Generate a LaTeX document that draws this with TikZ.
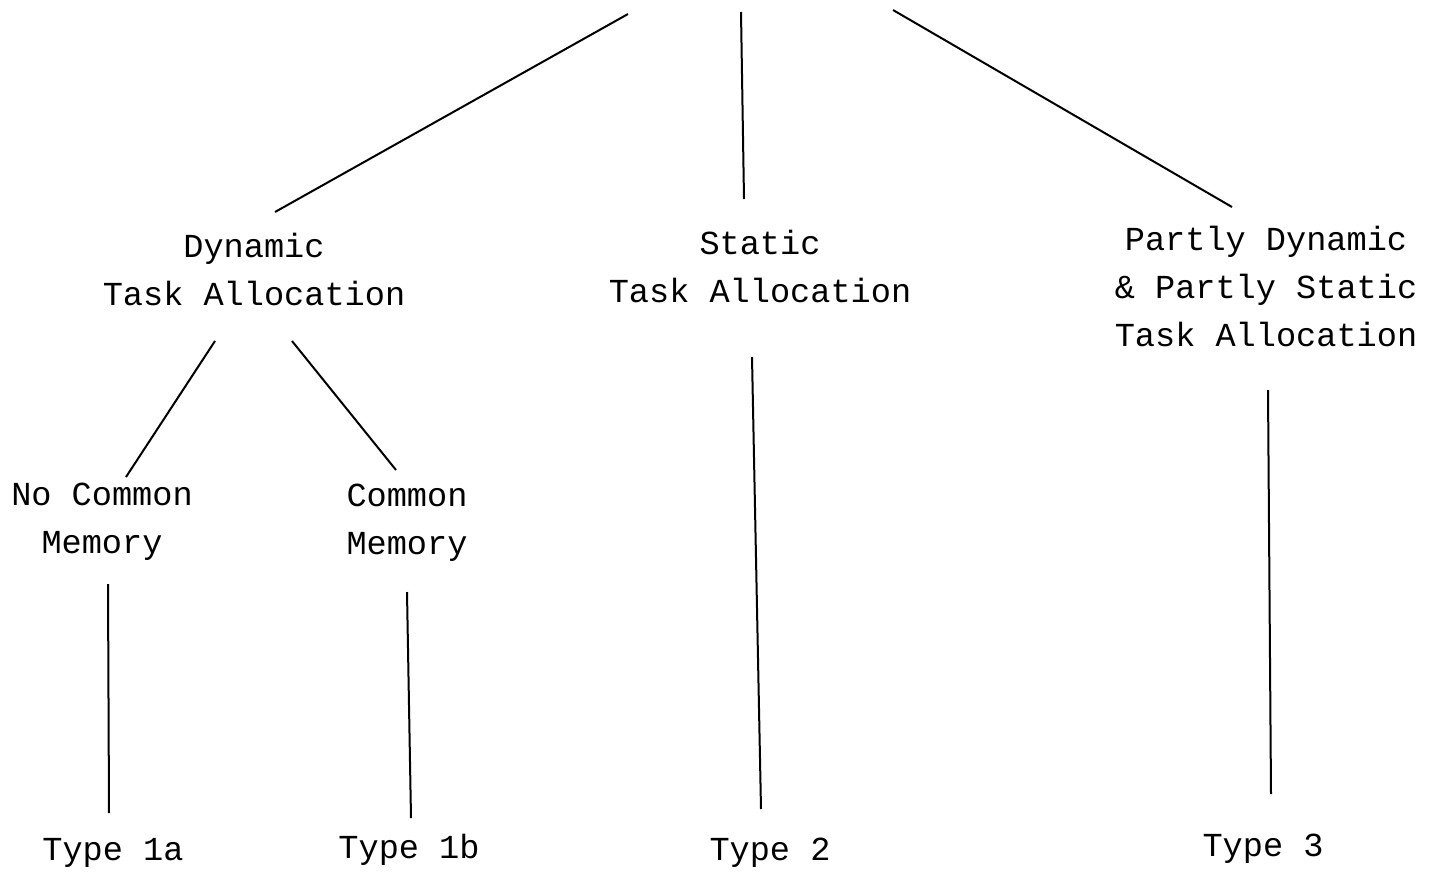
\documentclass[tikz,border=0pt]{standalone}
\usepackage{fontspec}
\setmainfont{Liberation Mono}
\begin{document}
\begin{tikzpicture}[x=0.5pt,y=-0.5pt,
  lbl/.style={align=center,inner sep=0pt,font=\fontsize{16.8pt}{24pt}\selectfont},
  conn/.style={line width=1pt,black}]
\useasboundingbox (0,0) rectangle (1441,874);
% labels
\node[lbl] (dyn) at (254,269) {Dynamic\\Task Allocation};
\node[lbl] (sta) at (760,266) {Static\\Task Allocation};
\node[lbl] (par) at (1266,286) {Partly Dynamic\\\& Partly Static\\Task Allocation};
\node[lbl] (ncm) at (102,522) {No Common\\Memory};
\node[lbl] (cm) at (407,523) {Common\\Memory};
\node[lbl] (t1a) at (113,853) {Type 1a};
\node[lbl] (t1b) at (409,850) {Type 1b};
\node[lbl] (t2) at (770,853) {Type 2};
\node[lbl] (t3) at (1263,849) {Type 3};
% connector ends
\coordinate (topL) at (628,14);
\coordinate (topM) at (741,12);
\coordinate (topR) at (893,10);
\coordinate (dynT) at (275,212);
\coordinate (staT) at (744,199);
\coordinate (parT) at (1232,207);
\coordinate (dynBL) at (215,341);
\coordinate (dynBR) at (292,341);
\coordinate (ncmT) at (126,477);
\coordinate (cmT) at (396,470);
\coordinate (ncmB) at (108,584);
\coordinate (t1aT) at (109,813);
\coordinate (cmB) at (407,592);
\coordinate (t1bT) at (411,818);
\coordinate (staB) at (752,357);
\coordinate (t2T) at (761,809);
\coordinate (parB) at (1268,390);
\coordinate (t3T) at (1271,794);
% connectors
\draw[conn] (topL) -- (dynT);
\draw[conn] (topM) -- (staT);
\draw[conn] (topR) -- (parT);
\draw[conn] (dynBL) -- (ncmT);
\draw[conn] (dynBR) -- (cmT);
\draw[conn] (ncmB) -- (t1aT);
\draw[conn] (cmB) -- (t1bT);
\draw[conn] (staB) -- (t2T);
\draw[conn] (parB) -- (t3T);
\end{tikzpicture}
\end{document}
